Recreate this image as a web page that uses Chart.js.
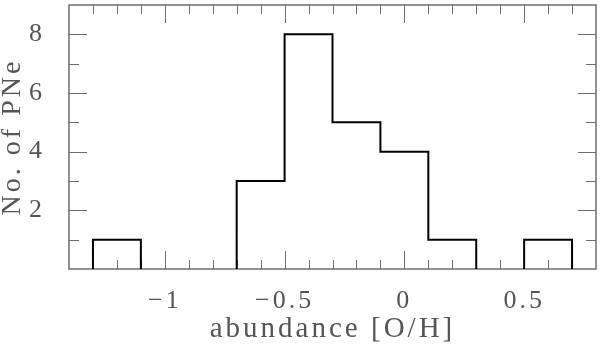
<!DOCTYPE html>
<html>
<head>
<meta charset="utf-8">
<script src="https://cdn.jsdelivr.net/npm/chart.js@4/dist/chart.umd.min.js"></script>
<style>
  html, body { margin: 0; padding: 0; background: #fff; }
  canvas { display: block; }
</style>
</head>
<body>
<canvas id="c" width="600" height="345"></canvas>
<script>
// ---- data ----
const binEdges = [-1.3, -1.1, -0.9, -0.7, -0.5, -0.3, -0.1, 0.1, 0.3, 0.5, 0.7];
const counts   = [1, 0, 0, 3, 8, 5, 4, 1, 0, 1];
const xRange = [-1.4, 0.8];
const yRange = [0, 9];
const xTickValues = [-1, -0.5, 0, 0.5];
const xTickLabels = ['\u22121', '\u22120.5', '0', '0.5'];
const yTickValues = [2, 4, 6, 8];
const yTickLabels = ['2', '4', '6', '8'];
const xMinorStep = 0.1;
const yMinorStep = 1;
const xTitle = 'abundance [O/H]';
const yTitle = 'No. of PNe';

// build the histogram outline (one segment per run of non-empty bins)
const segments = [];
let cur = null;
for (let i = 0; i < counts.length; i++) {
  const c = counts[i];
  if (c <= 0) { cur = null; continue; }
  if (!cur) { cur = [{ x: binEdges[i], y: 0 }]; segments.push(cur); }
  cur.push({ x: binEdges[i], y: c });
  cur.push({ x: binEdges[i + 1], y: c });
  const next = i < counts.length - 1 ? counts[i + 1] : 0;
  if (next <= 0) cur.push({ x: binEdges[i + 1], y: 0 });
}

const TEXT = '#555555';
const AXIS = '#6e6e6e';
const FONT = '"Liberation Serif", "DejaVu Serif", serif';

const spacingPlugin = {
  id: 'spacing',
  beforeUpdate(chart) { chart.ctx.letterSpacing = '3px'; },
  beforeDraw(chart) { chart.ctx.letterSpacing = '3px'; }
};

const framePlugin = {
  id: 'frame',
  beforeDatasetsDraw(chart) {
    const { ctx, chartArea: a, scales: { x, y } } = chart;
    ctx.save();
    ctx.strokeStyle = AXIS;
    ctx.lineWidth = 1;
    const nx = Math.round((xRange[1] - xRange[0]) / xMinorStep);
    for (let k = 1; k < nx; k++) {
      const v = xRange[0] + k * xMinorStep;
      const major = xTickValues.some(t => Math.abs(t - v) < 1e-6);
      const len = major ? 18 : 9;
      const px = Math.round(x.getPixelForValue(v)) + 0.5;
      ctx.beginPath();
      ctx.moveTo(px, a.bottom); ctx.lineTo(px, a.bottom - len);
      ctx.moveTo(px, a.top); ctx.lineTo(px, a.top + len);
      ctx.stroke();
    }
    const ny = Math.round((yRange[1] - yRange[0]) / yMinorStep);
    for (let k = 1; k < ny; k++) {
      const v = yRange[0] + k * yMinorStep;
      const major = yTickValues.some(t => Math.abs(t - v) < 1e-6);
      const len = major ? 18 : 10;
      const py = Math.round(y.getPixelForValue(v)) + 0.5;
      ctx.beginPath();
      ctx.moveTo(a.left, py); ctx.lineTo(a.left + len, py);
      ctx.moveTo(a.right, py); ctx.lineTo(a.right - len, py);
      ctx.stroke();
    }
    ctx.lineWidth = 1.5;
    ctx.strokeRect(a.left, a.top, a.right - a.left, a.bottom - a.top);
    ctx.restore();
  }
};

new Chart(document.getElementById('c'), {
  type: 'scatter',
  data: {
    datasets: segments.map(seg => ({
      data: seg,
      showLine: true,
      borderColor: '#000000',
      borderWidth: 2,
      pointRadius: 0,
      tension: 0
    }))
  },
  options: {
    responsive: false,
    animation: false,
    devicePixelRatio: 1,
    layout: { padding: { top: 5, right: 4, left: 0, bottom: 0 } },
    plugins: { legend: { display: false }, tooltip: { enabled: false } },
    scales: {
      x: {
        type: 'linear',
        min: xRange[0], max: xRange[1],
        grid: { display: false },
        border: { display: false },
        afterBuildTicks(s) { s.ticks = xTickValues.map(v => ({ value: v })); },
        afterFit(s) { s.height = 76; s.paddingLeft = 0; s.paddingRight = 0; },
        ticks: {
          autoSkip: false, maxRotation: 0,
          padding: 9,
          color: TEXT,
          font: { family: FONT, size: 26 },
          callback(v) { const i = xTickValues.findIndex(t => Math.abs(t - v) < 1e-6); return i >= 0 ? xTickLabels[i] : ''; }
        },
        title: {
          display: true, text: xTitle, color: TEXT,
          font: { family: FONT, size: 29, lineHeight: 1 },
          padding: { top: 0, bottom: 1 }
        }
      },
      y: {
        type: 'linear',
        min: yRange[0], max: yRange[1],
        grid: { display: false },
        border: { display: false },
        afterBuildTicks(s) { s.ticks = yTickValues.map(v => ({ value: v })); },
        afterFit(s) { s.width = 69; s.paddingTop = 0; s.paddingBottom = 0; },
        ticks: {
          autoSkip: false,
          padding: 16,
          color: TEXT,
          font: { family: FONT, size: 26 },
          callback(v) { const i = yTickValues.findIndex(t => Math.abs(t - v) < 1e-6); return i >= 0 ? yTickLabels[i] : ''; }
        },
        title: {
          display: true, text: yTitle, color: TEXT,
          font: { family: FONT, size: 28, lineHeight: 0.9 },
          padding: { top: 0, bottom: 0 }
        }
      }
    }
  },
  plugins: [spacingPlugin, framePlugin]
});
</script>
</body>
</html>
